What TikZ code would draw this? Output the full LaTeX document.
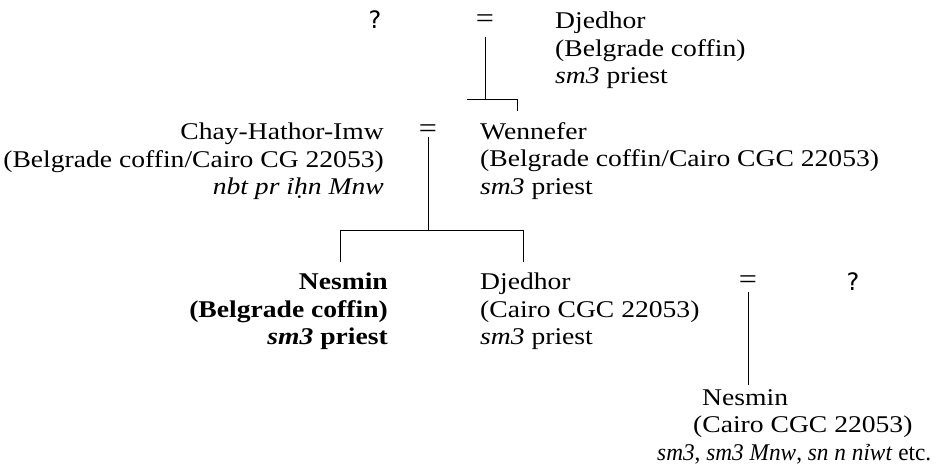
\documentclass[tikz,border=0pt]{standalone}
\usepackage{fontspec}
\setmainfont{Liberation Serif}[FakeStretch=1.15]
\newfontfamily\condf{Liberation Serif}[FakeStretch=0.97]
\newfontfamily\qfont{DejaVu Sans}
\begin{document}
\begin{tikzpicture}[x=1pt,y=-1pt,
  txt/.style={inner sep=0pt,font=\fontsize{24}{27.5}\selectfont},
  eqs/.style={inner sep=0pt,font=\fontsize{28}{30}\selectfont},
  qs/.style={inner sep=0pt,font=\qfont\fontsize{24}{26}\selectfont},
  line/.style={draw=black,line width=0.8pt}]
\useasboundingbox (0,0) rectangle (937,466);
% row 1
\node[qs] (q1) at (375,20) {?};
\node[eqs] (eq1) at (485,21) {=};
\node[txt,anchor=north west,align=left] (dj1) at (555,12) {Djedhor\\(Belgrade coffin)\\\textit{sm3} priest};
% row 2
\node[txt,anchor=north east,align=right] (chay) at (384,123) {Chay-Hathor-Imw\\(Belgrade coffin/Cairo CG 22053)\\\textit{nbt pr ỉḥn Mnw}};
\node[eqs] (eq2) at (428,131) {=};
\node[txt,anchor=north west,align=left] (wen) at (480,122) {Wennefer\\(Belgrade coffin/Cairo CGC 22053)\\\textit{sm3} priest};
% row 3
\node[txt,anchor=north east,align=right,font=\fontsize{24}{27.5}\selectfont\bfseries] (nes1) at (388,273) {Nesmin\\(Belgrade coffin)\\\textit{sm3} priest};
\node[txt,anchor=north west,align=left] (dj2) at (480,273) {Djedhor\\(Cairo CGC 22053)\\\textit{sm3} priest};
\node[eqs] (eq3) at (748,282) {=};
\node[qs] (q2) at (853,282) {?};
% row 4
\node[txt,anchor=north west,align=left] (nes2) at (657,389) {\hspace*{45pt}Nesmin\\\hspace*{36pt}(Cairo CGC 22053)\\{\condf\textit{sm3}, \textit{sm3 Mnw}, \textit{sn n nỉwt} etc.}};
% connectors
\coordinate (j1) at (485,99);
\coordinate (h1l) at (467,99);
\coordinate (h1r) at (517,99);
\coordinate (w1) at (517,111);
\draw[line] ([yshift=-16pt]eq1.center) -- (j1);
\draw[line] (h1l) -- (h1r) -- (w1);
\coordinate (j2) at (428,230);
\coordinate (h2l) at (340,230);
\coordinate (h2r) at (523,230);
\coordinate (n1) at (340,262);
\coordinate (d2) at (523,262);
\draw[line] ([yshift=-6pt]eq2.center) -- (j2);
\draw[line] (n1) -- (h2l) -- (h2r) -- (d2);
\coordinate (j3) at (748,385);
\draw[line] ([yshift=-10pt]eq3.center) -- (j3);
\end{tikzpicture}
\end{document}
